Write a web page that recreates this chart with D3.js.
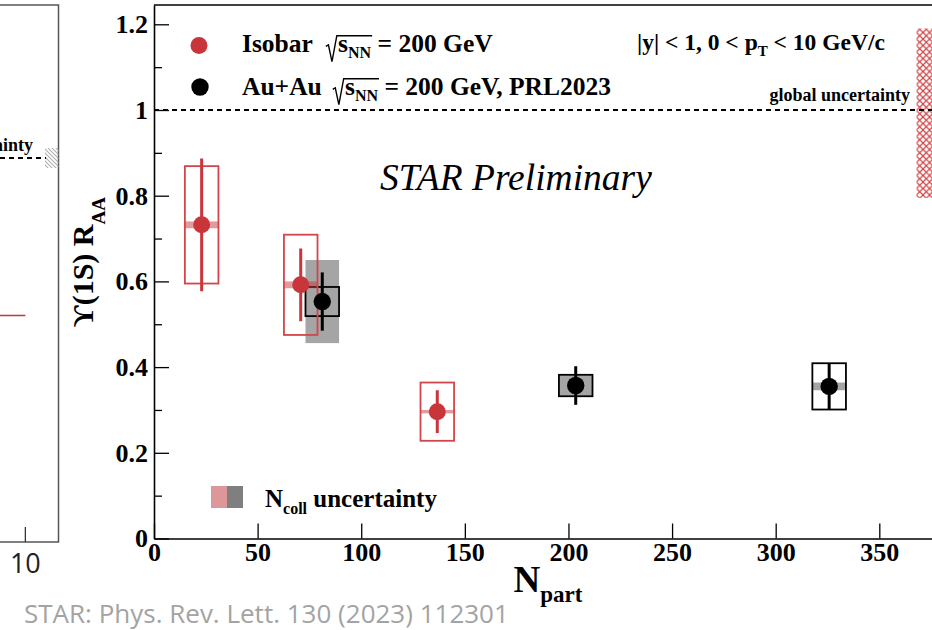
<!DOCTYPE html>
<html>
<head>
<meta charset="utf-8">
<script src="https://cdn.jsdelivr.net/npm/d3@7"></script>
<style>
  body { margin: 0; background: #ffffff; }
  svg { display: block; }
</style>
</head>
<body>
<svg id="chart" width="932" height="630"></svg>
<script>
// Upsilon(1S) nuclear modification factor versus number of participants

// Isobar (Ru+Ru / Zr+Zr) points
const isobarNpart = [23.0, 70.8, 136.7];
const isobarRaa   = [0.732, 0.592, 0.296];
const isobarStat  = [0.155, 0.085, 0.050];
const isobarSys   = [0.137, 0.117, 0.068];
const isobarNcoll = [0.008, 0.008, 0.004];

// Au+Au points (PRL 2023)
const auauNpart = [81.2, 203.5, 325.8];
const auauRaa   = [0.553, 0.357, 0.355];
const auauStat  = [0.068, 0.045, 0.054];
const auauSys   = [0.034, 0.025, 0.054];
const auauNcoll = [0.097, 0.024, 0.009];

// half width of the systematic boxes, in N_part
const boxHalfWidth = [8.1];

// axis ticks
const xTickValues = [0, 50, 100, 150, 200, 250, 300, 350];
const yMajorTicks = [0, 0.2, 0.4, 0.6, 0.8, 1, 1.2];
const yMinorTicks = [0.1, 0.3, 0.5, 0.7, 0.9, 1.1];
const yTickLabels = ["0", "0.2", "0.4", "0.6", "0.8", "1", "1.2"];

// global uncertainty band around unity
const globalBand = [0.795, 1.19];
const globalBandNpart = [368, 400];
const unity = [1];

// neighbouring panel (partially visible at the left)
const leftTicks = [10];
const leftUnity = [1];
const leftBand = [0.974, 1.026];
const leftBandX = [10.77, 11.3];
const leftRedLevel = [0.59];
const leftRedX = [0, 10];

const serif = "'Liberation Serif','Times New Roman',serif";
const sans = "'Open Sans','Liberation Sans',sans-serif";
const RED = "#c8353a";
const RED_BOX = "#d2464b";

const W = 932, H = 630;
const svg = d3.select("#chart");

const x = d3.scaleLinear().domain([0, 400]).range([154, 154 + 400 * 2.0723]);
const y = d3.scaleLinear().domain([0, 1.245]).range([538.5, 538.5 - 1.245 * 428.5]);

const defs = svg.append("defs");
defs.append("clipPath").attr("id", "plotClip")
  .append("rect").attr("x", x(0)).attr("y", y(1.245)).attr("width", W - x(0)).attr("height", y(0) - y(1.245));

// cross-hatch for global uncertainty
const hp = 6.5;
const hatch = defs.append("pattern").attr("id", "redHatch")
  .attr("patternUnits", "userSpaceOnUse").attr("width", hp).attr("height", hp);
hatch.append("path").attr("d", `M0,0L${hp},${hp}M${hp},0L0,${hp}`)
  .attr("stroke", "#cf4446").attr("stroke-width", 1.2).attr("fill", "none");
const ghatch = defs.append("pattern").attr("id", "greyHatch")
  .attr("patternUnits", "userSpaceOnUse").attr("width", 4).attr("height", 4);
ghatch.append("path").attr("d", "M0,0L4,4M-1,3L1,5M3,-1L5,1")
  .attr("stroke", "#b0b0b0").attr("stroke-width", 1.1).attr("fill", "none");

// ---------- rich text helper: sequential segments with optional radical ----------
function richText(parent, x0, y0, parts, opts = {}) {
  const g = parent.append("g");
  let cx = 0;
  let radStart = null, radEnd = null, radSize = 24;
  parts.forEach(p => {
    if (p.radical) {
      radStart = cx;
      radSize = p.size;
      cx += p.size * 0.48;
    }
    const t = g.append("text")
      .attr("x", cx).attr("y", p.shift || 0)
      .attr("font-family", p.family || serif)
      .attr("font-weight", p.weight || "bold")
      .attr("font-style", p.italic ? "italic" : "normal")
      .attr("font-size", p.size)
      .attr("fill", p.color || "#000")
      .attr("xml:space", "preserve")
      .text(p.text);
    const w = t.node().getComputedTextLength();
    cx += w;
    if (p.radEnd) radEnd = cx + 1;
    cx += p.gap || 0;
  });
  if (radStart !== null) {
    const s = radSize;
    const top = -s * 0.64;
    g.append("path")
      .attr("d", `M${radStart},${-s * 0.22} L${radStart + s * 0.1},${-s * 0.28} L${radStart + s * 0.24},${s * 0.38} L${radStart + s * 0.43},${top} L${radEnd},${top}`)
      .attr("fill", "none").attr("stroke", "#000").attr("stroke-width", 1.4);
  }
  let ox = x0;
  if (opts.anchor === "end") ox = x0 - cx;
  else if (opts.anchor === "middle") ox = x0 - cx / 2;
  g.attr("transform", `translate(${ox},${y0})`);
  return g;
}

// ---------- neighbouring panel fragment ----------
const lx = d3.scaleLinear().domain([0, 11.3]).range([-229.5, 58.5]);
const ly = d3.scaleLinear().domain([0, 1]).range([542, 158]);
const left = svg.append("g");
left.append("path")
  .attr("d", `M0,5 L${lx(11.3)},5 L${lx(11.3)},${ly(0)} L0,${ly(0)}`)
  .attr("fill", "none").attr("stroke", "#555").attr("stroke-width", 1.5);
left.selectAll(".ltick").data(leftTicks).join("line")
  .attr("x1", d => lx(d)).attr("x2", d => lx(d))
  .attr("y1", ly(0)).attr("y2", ly(0) - 15)
  .attr("stroke", "#333").attr("stroke-width", 1.3);
left.selectAll(".llab").data(leftTicks).join("text")
  .attr("x", d => lx(d)).attr("y", 573)
  .attr("text-anchor", "middle").attr("font-family", sans).attr("font-size", 27).attr("fill", "#222")
  .text(d => d);
left.append("rect")
  .attr("x", lx(leftBandX[0])).attr("width", lx(leftBandX[1]) - lx(leftBandX[0]))
  .attr("y", ly(leftBand[1])).attr("height", ly(leftBand[0]) - ly(leftBand[1]))
  .attr("fill", "url(#greyHatch)");
left.selectAll(".lunity").data(leftUnity).join("line")
  .attr("x1", 0).attr("x2", lx(leftBandX[0]) + 1)
  .attr("y1", d => ly(d)).attr("y2", d => ly(d))
  .attr("stroke", "#000").attr("stroke-width", 2).attr("stroke-dasharray", "5,4");
richText(left, lx(10.3), ly(1) - 7, [{ text: "global uncertainty", size: 18 }], { anchor: "end" });
left.selectAll(".lred").data(leftRedLevel).join("line")
  .attr("x1", lx(leftRedX[0])).attr("x2", lx(leftRedX[1]))
  .attr("y1", d => ly(d)).attr("y2", d => ly(d))
  .attr("stroke", RED).attr("stroke-width", 1.6);

// ---------- main panel ----------
const plot = svg.append("g").attr("clip-path", "url(#plotClip)");

// global uncertainty band
plot.append("rect")
  .attr("x", x(globalBandNpart[0])).attr("width", x(globalBandNpart[1]) - x(globalBandNpart[0]))
  .attr("y", y(globalBand[1])).attr("height", y(globalBand[0]) - y(globalBand[1]))
  .attr("fill", "url(#redHatch)");

// unity reference
plot.selectAll(".unity").data(unity).join("line")
  .attr("x1", x(0)).attr("x2", x(400))
  .attr("y1", d => y(d)).attr("y2", d => y(d))
  .attr("stroke", "#000").attr("stroke-width", 2).attr("stroke-dasharray", "5,4");

const isobar = isobarNpart.map((n, i) => ({ n, v: isobarRaa[i], stat: isobarStat[i], sys: isobarSys[i], ncoll: isobarNcoll[i] }));
const auau = auauNpart.map((n, i) => ({ n, v: auauRaa[i], stat: auauStat[i], sys: auauSys[i], ncoll: auauNcoll[i] }));
const hw = boxHalfWidth[0];

// Au+Au N_coll uncertainty (grey)
plot.selectAll(".auNcoll").data(auau).join("rect")
  .attr("x", d => x(d.n - hw)).attr("width", d => x(d.n + hw) - x(d.n - hw))
  .attr("y", d => y(d.v + d.ncoll)).attr("height", d => y(d.v - d.ncoll) - y(d.v + d.ncoll))
  .attr("fill", "#7f7f7f").attr("fill-opacity", 0.7);
// Au+Au systematic boxes
plot.selectAll(".auSys").data(auau).join("rect")
  .attr("x", d => x(d.n - hw)).attr("width", d => x(d.n + hw) - x(d.n - hw))
  .attr("y", d => y(d.v + d.sys)).attr("height", d => y(d.v - d.sys) - y(d.v + d.sys))
  .attr("fill", "none").attr("stroke", "#000").attr("stroke-width", 1.8);

// Isobar N_coll uncertainty (pink)
plot.selectAll(".isoNcoll").data(isobar).join("rect")
  .attr("x", d => x(d.n - hw)).attr("width", d => x(d.n + hw) - x(d.n - hw))
  .attr("y", d => y(d.v + d.ncoll)).attr("height", d => y(d.v - d.ncoll) - y(d.v + d.ncoll))
  .attr("fill", "#c8353a").attr("fill-opacity", 0.5);
// Isobar systematic boxes
plot.selectAll(".isoSys").data(isobar).join("rect")
  .attr("x", d => x(d.n - hw)).attr("width", d => x(d.n + hw) - x(d.n - hw))
  .attr("y", d => y(d.v + d.sys)).attr("height", d => y(d.v - d.sys) - y(d.v + d.sys))
  .attr("fill", "none").attr("stroke", RED_BOX).attr("stroke-width", 1.8);

// statistical error bars and markers
plot.selectAll(".isoStat").data(isobar).join("line")
  .attr("x1", d => x(d.n)).attr("x2", d => x(d.n))
  .attr("y1", d => y(d.v + d.stat)).attr("y2", d => y(d.v - d.stat))
  .attr("stroke", RED).attr("stroke-width", 3);
plot.selectAll(".isoDot").data(isobar).join("circle")
  .attr("cx", d => x(d.n)).attr("cy", d => y(d.v)).attr("r", 8.5)
  .attr("fill", RED);
plot.selectAll(".auStat").data(auau).join("line")
  .attr("x1", d => x(d.n)).attr("x2", d => x(d.n))
  .attr("y1", d => y(d.v + d.stat)).attr("y2", d => y(d.v - d.stat))
  .attr("stroke", "#000").attr("stroke-width", 3);
plot.selectAll(".auDot").data(auau).join("circle")
  .attr("cx", d => x(d.n)).attr("cy", d => y(d.v)).attr("r", 8.7)
  .attr("fill", "#000");

// ---------- axes ----------
const axisStyle = g => {
  g.select(".domain").attr("stroke", "#000").attr("stroke-width", 1.6);
  g.selectAll(".tick line").attr("stroke", "#000").attr("stroke-width", 1.3);
  g.selectAll(".tick text").attr("font-family", serif).attr("font-weight", "bold").attr("fill", "#000");
};

svg.append("g").attr("transform", `translate(${x(0)},0)`)
  .call(d3.axisLeft(y).tickValues(yMinorTicks).tickSizeInner(-8).tickSizeOuter(0).tickFormat(""))
  .call(g => { g.select(".domain").remove(); g.selectAll(".tick line").attr("stroke", "#000").attr("stroke-width", 1.3); });

svg.append("g").attr("transform", `translate(${x(0)},0)`)
  .call(d3.axisLeft(y).tickValues(yMajorTicks).tickSizeInner(-15).tickSizeOuter(0).tickPadding(6)
    .tickFormat((d, i) => yTickLabels[i]))
  .call(axisStyle)
  .call(g => g.selectAll(".tick text").attr("font-size", 26));

svg.append("g").attr("transform", `translate(0,${y(0)})`)
  .call(d3.axisBottom(x).tickValues(xTickValues).tickSizeInner(-15).tickSizeOuter(0).tickPadding(4))
  .call(axisStyle)
  .call(g => g.selectAll(".tick text").attr("font-size", 26));

// top frame
svg.append("line").attr("x1", x(0)).attr("x2", W).attr("y1", y(1.245)).attr("y2", y(1.245))
  .attr("stroke", "#000").attr("stroke-width", 1.3);

// axis titles
const yTitle = svg.append("text")
  .attr("transform", `translate(93,262) rotate(-90)`)
  .attr("text-anchor", "middle").attr("font-family", serif).attr("font-weight", "bold").attr("font-size", 30);
yTitle.append("tspan").text("\u03D2(1S) R");
yTitle.append("tspan").attr("dy", 12).attr("font-size", 19).text("AA");

richText(svg, 548, 592, [
  { text: "N", size: 37 },
  { text: "part", size: 23, shift: 10 }
], { anchor: "middle" });

// ---------- legend & annotations ----------
svg.append("circle").attr("cx", 199).attr("cy", 45.5).attr("r", 8.5).attr("fill", RED);
svg.append("circle").attr("cx", 200).attr("cy", 87).attr("r", 8.7).attr("fill", "#000");

richText(svg, 242, 52, [
  { text: "Isobar", size: 25.5, gap: 13 },
  { text: "s", size: 25.5, radical: true },
  { text: "NN", size: 16, shift: 6, radEnd: true },
  { text: " = 200 GeV", size: 25.5 }
]);
richText(svg, 242, 95, [
  { text: "Au+Au", size: 25.5, gap: 11 },
  { text: "s", size: 25.5, radical: true },
  { text: "NN", size: 16, shift: 6, radEnd: true },
  { text: " = 200 GeV, PRL2023", size: 25.5 }
]);

richText(svg, 637, 50, [
  { text: "|y| < 1, 0 < p", size: 23.5 },
  { text: "T", size: 15, shift: 6 },
  { text: " < 10 GeV/c", size: 23.5 }
]);

richText(svg, 910, y(1) - 9, [{ text: "global uncertainty", size: 18 }], { anchor: "end" });

svg.append("text").attr("x", 380).attr("y", 190)
  .attr("font-family", serif).attr("font-style", "italic").attr("font-size", 37.5)
  .text("STAR Preliminary");

// N_coll legend
svg.append("rect").attr("x", 211).attr("y", 486).attr("width", 16).attr("height", 22).attr("fill", "#de9799");
svg.append("rect").attr("x", 227).attr("y", 486).attr("width", 16).attr("height", 22).attr("fill", "#7f7f7f");
richText(svg, 265, 507, [
  { text: "N", size: 25 },
  { text: "coll", size: 16, shift: 7 },
  { text: " uncertainty", size: 25 }
]);

// reference
svg.append("text").attr("x", 24).attr("y", 623)
  .attr("font-family", sans).attr("font-size", 26).attr("fill", "#a3a3a3")
  .text("STAR: Phys. Rev. Lett. 130 (2023) 112301");
</script>
</body>
</html>
